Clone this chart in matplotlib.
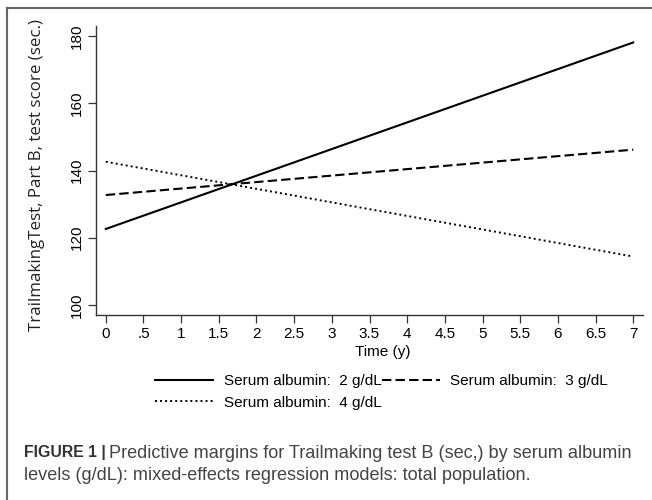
import numpy as np
import matplotlib.pyplot as plt
from matplotlib.lines import Line2D

# predicted margins at start / end of follow-up
time = [0, 7]
alb2 = [122.6, 178.1]
alb3 = [132.7, 146.2]
alb4 = [142.6, 114.4]

xticks = [0, .5, 1, 1.5, 2, 2.5, 3, 3.5, 4, 4.5, 5, 5.5, 6, 6.5, 7]
xticklabels = ['0', '.5', '1', '1.5', '2', '2.5', '3', '3.5', '4', '4.5', '5', '5.5', '6', '6.5', '7']
yticks = [100, 120, 140, 160, 180]
labels = ['Serum albumin:  2 g/dL', 'Serum albumin:  3 g/dL', 'Serum albumin:  4 g/dL']

plt.rcParams['font.family'] = ['Liberation Sans', 'DejaVu Sans']

fig = plt.figure(figsize=(6.52, 5), dpi=100)
ax = fig.add_axes([96/652, 1-315/500, (643-96)/652, (315-26)/500])

l2, = ax.plot(time, alb2, color='black', lw=1.5, ls='-')
l3, = ax.plot(time, alb3, color='black', lw=1.5, ls=(0, (4.5, 2)))
l4, = ax.plot(time, alb4, color='black', lw=1.4, ls=(0, (1, 1.6)))

ax.set_xlim(-0.13, 7.13)
ax.set_ylim(97, 183)
ax.set_xticks(xticks)
ax.set_xticklabels(xticklabels)
ax.set_yticks(yticks)
ax.set_yticklabels([str(v) for v in yticks], rotation=90, va='center')
ax.tick_params(labelsize=11, length=5.5, width=0.9, color='#333333', pad=3)
ax.spines['top'].set_visible(False)
ax.spines['right'].set_visible(False)
for s in ['left', 'bottom']:
    ax.spines[s].set_color('#333333')
    ax.spines[s].set_linewidth(1.0)

ax.set_xlabel('Time (y)', fontsize=11, va='center')
ax.xaxis.set_label_coords((383-96)/547, (315-352)/289)
ax.set_ylabel('TrailmakingTest, Part B, test score (sec.)', fontsize=12.2,
              family=['Open Sans', 'DejaVu Sans'], va='center', color='#222222')
ax.yaxis.set_label_coords((37-96)/547, (315-175)/289)

leg = fig.legend([l2, l4, l3], [labels[0], labels[2], labels[1]],
                 ncol=2, loc='upper left', bbox_to_anchor=(155/652, 1-374/500),
                 frameon=False, fontsize=11, handlelength=3.8, handletextpad=0.7,
                 columnspacing=0.0, labelspacing=0.5, borderpad=0, borderaxespad=0)

# outer figure frame
fig.add_artist(Line2D([7/652, 1], [1-8/500, 1-8/500], color='#666666', lw=1.5))
fig.add_artist(Line2D([7/652, 7/652], [0, 1-8/500], color='#666666', lw=1.5))

fig.text(24/652, 1-453/500, 'FIGURE 1 |', fontsize=11.4, fontweight='bold',
         color='#333333', va='center')
fig.text(109/652, 1-453/500, 'Predictive margins for Trailmaking test B (sec,) by serum albumin',
         fontsize=13.1, color='#444444', va='center')
fig.text(24/652, 1-476/500, 'levels (g/dL): mixed-effects regression models: total population.',
         fontsize=13.1, color='#444444', va='center')

fig.savefig('out.png', dpi=100)
